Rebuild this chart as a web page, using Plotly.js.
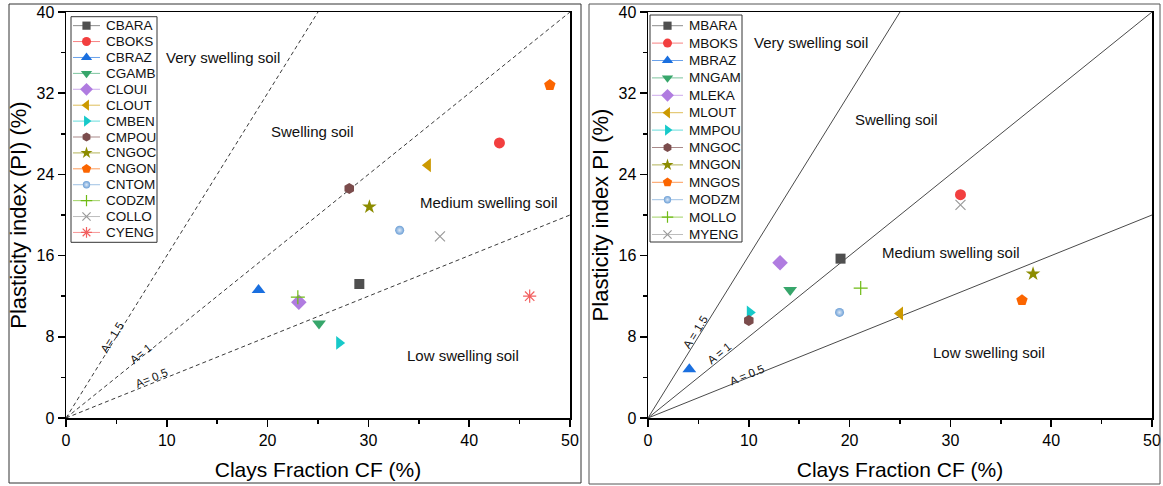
<!DOCTYPE html>
<html><head><meta charset="utf-8">
<script src="https://cdn.plot.ly/plotly-3.0.1.min.js"></script>
<style>html,body{margin:0;padding:0;background:#fff}#chart{width:1163px;height:486px}</style>
</head><body><div id="chart"></div>
<script>
// ---------- data ----------
const leftNames  = ['CBARA','CBOKS','CBRAZ','CGAMB','CLOUI','CLOUT','CMBEN','CMPOU','CNGOC','CNGON','CNTOM','CODZM','COLLO','CYENG'];
const leftCF     = [29.1, 43.0, 19.1, 25.1, 23.1, 35.9, 27.1, 28.1, 30.1, 48.0, 33.1, 23.0, 37.1, 46.0];
const leftPI     = [13.2, 27.1, 12.6,  9.3, 11.4, 24.9,  7.4, 22.6, 20.8, 32.8, 18.5, 11.9, 17.9, 12.0];
const rightNames = ['MBARA','MBOKS','MBRAZ','MNGAM','MLEKA','MLOUT','MMPOU','MNGOC','MNGON','MNGOS','MODZM','MOLLO','MYENG'];
const rightCF    = [19.1, 31.0,  4.1, 14.1, 13.1, 25.0, 10.1, 10.0, 38.2, 37.1, 19.0, 21.1, 31.0];
const rightPI    = [15.7, 22.0,  4.8, 12.6, 15.3, 10.3, 10.4,  9.6, 14.2, 11.6, 10.4, 12.8, 21.0];
const activitySlopes = [0.4, 0.8, 1.6];
const leftActLabels  = ['A= 0.5', 'A= 1', 'A= 1.5'];
const rightActLabels = ['A = 0.5', 'A = 1', 'A = 1.5'];
const zoneLabels = ['Very swelling soil', 'Swelling soil', 'Medium swelling soil', 'Low swelling soil'];
const xTitle = 'Clays Fraction CF (%)';
const leftYTitle = 'Plasticity index (PI) (%)';
const rightYTitle = 'Plasticity index PI (%)';

// ---------- styles ----------
const styles = [
  {symbol:'square',         color:'#4f4f4f', size:10},
  {symbol:'circle',         color:'#f23f3f', size:11},
  {symbol:'triangle-up',    color:'#1a6fdf', size:12},
  {symbol:'triangle-down',  color:'#37a66b', size:12},
  {symbol:'diamond',        color:'#b07ce0', size:12},
  {symbol:'triangle-left',  color:'#cc9900', size:12},
  {symbol:'triangle-right', color:'#17c9c9', size:12},
  {symbol:'hexagon',        color:'#7b4c4c', size:11},
  {symbol:'star',           color:'#8c8c00', size:11},
  {symbol:'pentagon',       color:'#fb6500', size:12},
  {symbol:'circle',         color:'#6c9fd6', size:9, gradient:true},
  {symbol:'cross-thin',     color:'#6fbb14', size:10, thin:true},
  {symbol:'x-thin',         color:'#9a9a9a', size:10, thin:true},
  {symbol:'asterisk',       color:'#f26060', size:11, thin:true}
];
function rgba(hex, a){
  const n = parseInt(hex.slice(1),16);
  return 'rgba('+((n>>16)&255)+','+((n>>8)&255)+','+(n&255)+','+a+')';
}
function mk(st, scale){
  const m = {symbol: st.symbol, color: st.color, size: st.size*scale};
  m.line = st.thin ? {color: st.color, width: 1.2} : {width: 0};
  if (st.gradient) m.gradient = {type:'radial', color:'#dde9f7'};
  return m;
}

const W = 1163, H = 486;
const fx = p => p / W, fy = p => 1 - p / H;
const FONT = 'Arial, "Liberation Sans", sans-serif';

const traces = [];
// zone boundary lines
function zoneLines(xa, ya, lineStyle){
  activitySlopes.forEach(s => {
    traces.push({x:[0, 50], y:[0, 50*s], xaxis:xa, yaxis:ya, mode:'lines',
      line:lineStyle, hoverinfo:'skip', showlegend:false});
  });
}
zoneLines('x', 'y', {color:'#3a3a3a', width:1, dash:'4px,3px'});
zoneLines('x2', 'y2', {color:'#4a4a4a', width:1});

// data points
leftNames.forEach((n, i) => traces.push({x:[leftCF[i]], y:[leftPI[i]], name:n, xaxis:'x', yaxis:'y',
  mode:'markers', marker:mk(styles[i], 1), cliponaxis:false, showlegend:false}));
rightNames.forEach((n, i) => traces.push({x:[rightCF[i]], y:[rightPI[i]], name:n, xaxis:'x2', yaxis:'y2',
  mode:'markers', marker:mk(styles[i], 1), cliponaxis:false, showlegend:false}));

// custom legends (swatch line + marker), row index on helper axes
function legendSwatches(names, xa, ya){
  names.forEach((n, i) => {
    traces.push({x:[0, 1], y:[i, i], xaxis:xa, yaxis:ya, mode:'lines',
      line:{color:rgba(styles[i].color, 0.65), width:1}, hoverinfo:'skip', showlegend:false});
    traces.push({x:[0.5], y:[i], xaxis:xa, yaxis:ya, mode:'markers', marker:mk(styles[i], 0.82),
      cliponaxis:false, hoverinfo:'skip', showlegend:false});
  });
}
legendSwatches(leftNames, 'x3', 'y3');
legendSwatches(rightNames, 'x4', 'y4');

const annotations = [];
leftNames.forEach((n, i) => annotations.push({text:n, xref:'paper', x:fx(103.5), yref:'y3', y:i,
  xanchor:'left', yanchor:'middle', showarrow:false, font:{size:13.5, color:'#111'}}));
rightNames.forEach((n, i) => annotations.push({text:n, xref:'paper', x:fx(687), yref:'y4', y:i,
  xanchor:'left', yanchor:'middle', showarrow:false, font:{size:13.5, color:'#111'}}));

// zone labels
const leftZonePos  = [[15.6, 35.5], [24.5, 28.2], [42.0, 21.2], [39.4, 6.2]];
const rightZonePos = [[16.2, 37.0], [24.7, 29.4], [30.1, 16.3], [33.8, 6.45]];
zoneLabels.forEach((t, i) => {
  annotations.push({text:t, xref:'x', yref:'y', x:leftZonePos[i][0], y:leftZonePos[i][1],
    showarrow:false, font:{size:15, color:'#111'}});
  annotations.push({text:t, xref:'x2', yref:'y2', x:rightZonePos[i][0], y:rightZonePos[i][1],
    showarrow:false, font:{size:15, color:'#111'}});
});
// activity labels
const leftActPos  = [[8.5, 3.9], [7.4, 6.3], [4.6, 8.0]];
const rightActPos = [[9.8, 4.2], [7.1, 6.4], [4.7, 8.5]];
activitySlopes.forEach((s, i) => {
  const ang = -Math.atan(s * (407/40) / (504/50)) * 180 / Math.PI;
  annotations.push({text:leftActLabels[i], xref:'x', yref:'y', x:leftActPos[i][0], y:leftActPos[i][1],
    showarrow:false, textangle:ang, font:{size:11.5, color:'#111'}});
  annotations.push({text:rightActLabels[i], xref:'x2', yref:'y2', x:rightActPos[i][0], y:rightActPos[i][1],
    showarrow:false, textangle:ang, font:{size:11.5, color:'#111'}});
});

const axCommon = {showline:true, linecolor:'#000', linewidth:1.5, mirror:true,
  ticks:'outside', ticklen:7, tickwidth:1.5, tickcolor:'#000', showgrid:false, zeroline:false,
  tickfont:{size:16, color:'#000'}, fixedrange:true};
function xAx(dom, anchor){
  return Object.assign({}, axCommon, {domain:dom, anchor:anchor, range:[0, 50], dtick:10, tick0:0,
    minor:{dtick:5, ticks:'outside', ticklen:4, tickwidth:1.5, tickcolor:'#000', showgrid:false},
    title:{text:xTitle, font:{size:21, color:'#000'}, standoff:14}});
}
function yAx(dom, anchor, title){
  return Object.assign({}, axCommon, {domain:dom, anchor:anchor, range:[0, 40], dtick:8, tick0:0,
    minor:{dtick:4, ticks:'outside', ticklen:4, tickwidth:1.5, tickcolor:'#000', showgrid:false},
    title:{text:title, font:{size:22, color:'#000'}, standoff:4}});
}
const hidden = {visible:false, fixedrange:true};

const shapes = [
  {type:'rect', xref:'paper', yref:'paper', x0:fx(9), x1:fx(581), y0:fy(483), y1:fy(4), line:{color:'#333', width:1}},
  {type:'rect', xref:'paper', yref:'paper', x0:fx(589), x1:fx(1160), y0:fy(484), y1:fy(4), line:{color:'#555', width:1}},
  {type:'rect', xref:'paper', yref:'paper', x0:fx(71), x1:fx(157), y0:fy(242.3), y1:fy(16.7), line:{color:'#333', width:1}},
  {type:'rect', xref:'paper', yref:'paper', x0:fx(650), x1:fx(742), y0:fy(242), y1:fy(15), line:{color:'#333', width:1}}
];

const layout = {
  width:W, height:H, margin:{l:0, r:0, t:0, b:0},
  paper_bgcolor:'#fff', plot_bgcolor:'rgba(0,0,0,0)', showlegend:false,
  font:{family:FONT, color:'#000'},
  xaxis: xAx([fx(66), fx(570)], 'y'),
  yaxis: yAx([fy(418), fy(12)], 'x', leftYTitle),
  xaxis2: xAx([fx(648), fx(1152)], 'y2'),
  yaxis2: yAx([fy(418), fy(12)], 'x2', rightYTitle),
  xaxis3: Object.assign({domain:[fx(73), fx(100)], anchor:'y3', range:[0, 1]}, hidden),
  yaxis3: Object.assign({domain:[fy(240.4), fy(17.7)], anchor:'x3', range:[13.5, -0.5]}, hidden),
  xaxis4: Object.assign({domain:[fx(652), fx(683)], anchor:'y4', range:[0, 1]}, hidden),
  yaxis4: Object.assign({domain:[fy(243.2), fy(17)], anchor:'x4', range:[12.5, -0.5]}, hidden),
  annotations: annotations,
  shapes: shapes
};

Plotly.newPlot('chart', traces, layout, {displayModeBar:false, staticPlot:true});
</script>
</body></html>
